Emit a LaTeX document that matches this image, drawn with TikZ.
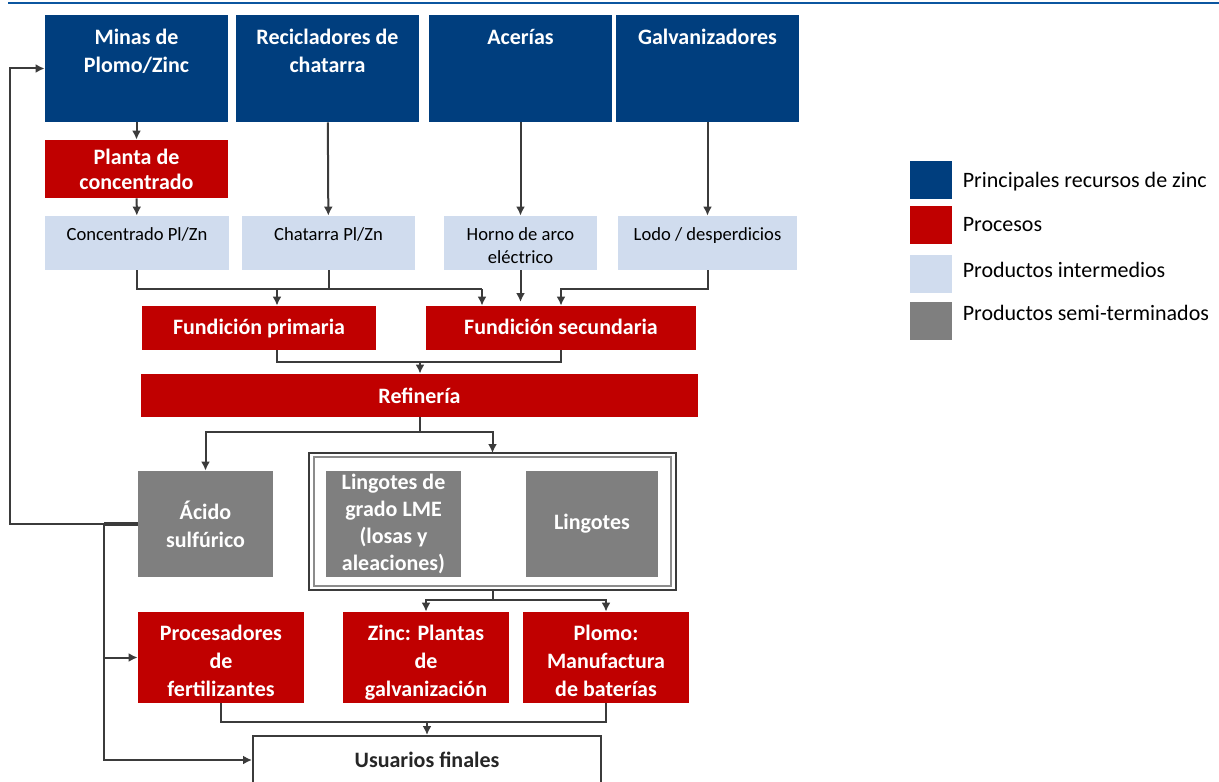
\documentclass[tikz,border=0pt]{standalone}
\usepackage{fontspec}
\setmainfont{Carlito}
\usepackage{tikz}
\usetikzlibrary{arrows.meta,positioning}
\definecolor{azulzinc}{HTML}{003E7E}
\definecolor{rojoproc}{HTML}{C00000}
\definecolor{celeste}{HTML}{D0DCEE}
\definecolor{grissemi}{HTML}{7F7F7F}
\definecolor{gristrazo}{HTML}{3B3B3B}
\definecolor{azulraya}{HTML}{0B56A0}
\tikzset{
caja/.style={rectangle, inner sep=0pt, align=center},
titulo/.style={text=white, font=\bfseries\fontsize{11}{14}\selectfont, align=center, inner sep=0pt},
chico/.style={text=black, font=\fontsize{9.3}{11.3}\selectfont, align=center, inner sep=0pt},
recurso/.style={caja, fill=azulzinc, minimum width=91.5pt, minimum height=53.5pt},
proceso/.style={caja, fill=rojoproc, titulo},
tres/.style={proceso, minimum width=83pt, minimum height=45.5pt, text height=39pt, text depth=0.5pt},
intermedio/.style={caja, fill=celeste, minimum height=27pt},
semiterm/.style={caja, fill=grissemi, titulo, minimum width=67.5pt, minimum height=53pt},
final/.style={caja, draw=gristrazo, line width=1pt, fill=white, font=\bfseries\fontsize{11}{14}\selectfont, text=black!85},
linea/.style={draw=gristrazo, line width=1pt},
flecha/.style={linea, -{Latex[length=4.5pt,width=4.5pt]}},
cuadro/.style={rectangle, minimum width=21pt, minimum height=19pt, inner sep=0pt},
leyenda/.style={font=\fontsize{11}{14}\selectfont, inner sep=0pt, anchor=west},
}
\begin{document}
\begin{tikzpicture}[x=0.5pt,y=-0.5pt]
\useasboundingbox (0,0) rectangle (1219,781);
\draw[azulraya, line width=1.3pt] (8,3) -- (1219,3);

% recursos
\node[recurso, label={[titulo,anchor=north,yshift=-7pt]north:{Minas de\\Plomo/Zinc}}] (minas) at (136.5,68.5) {};
\node[recurso, label={[titulo,anchor=north,yshift=-7pt]north:{Recicladores de\\chatarra}}] (recic) at (327.5,68.5) {};
\node[recurso, label={[titulo,anchor=north,yshift=-7pt]north:{Acerías}}] (acerias) at (520.5,68.5) {};
\node[recurso, label={[titulo,anchor=north,yshift=-7pt]north:{Galvanizadores}}] (galva) at (707.5,68.5) {};

\node[proceso, minimum width=91.5pt, minimum height=29pt, font=\bfseries\fontsize{11}{12.5}\selectfont] (planta) at (136.5,169) {Planta de\\concentrado};

% productos intermedios
\node[intermedio, minimum width=92pt, label={[chico,anchor=north,yshift=-6pt]north:{Concentrado Pl/Zn}}] (concen) at (137,243) {};
\node[intermedio, minimum width=86.5pt, label={[chico,anchor=north,yshift=-6pt]north:{Chatarra Pl/Zn}}] (chatarra) at (328.5,243) {};
\node[intermedio, minimum width=76.5pt, label={[chico,anchor=north,yshift=-6pt]north:{Horno de arco\\eléctrico}}] (horno) at (520.5,243) {};
\node[intermedio, minimum width=89.5pt, label={[chico,anchor=north,yshift=-6pt]north:{Lodo / desperdicios}}] (lodo) at (707.5,243) {};

\node[proceso, minimum width=117pt, minimum height=22pt, text depth=0.25ex] (fprim) at (259,328) {Fundición primaria};
\node[proceso, minimum width=135pt, minimum height=22pt, text depth=0.25ex] (fsec) at (561,328) {Fundición secundaria};
\node[proceso, minimum width=278.5pt, minimum height=21.5pt] (refin) at (419.5,395.5) {Refinería};

% semi-terminados
\draw[draw=gristrazo, line width=1.3pt] (309,453) rectangle (676,590);
\node[rectangle, draw=grissemi!90, line width=0.7pt, minimum width=178.5pt, minimum height=64.5pt] (marco) at (492.5,521.5) {};
\node[semiterm] (acido) at (205.5,524) {Ácido\\sulfúrico};
\node[semiterm, font=\bfseries\fontsize{11}{13.5}\selectfont] (lme) at (393.5,524) {Lingotes de\\grado LME\\(losas y\\aleaciones)};
\node[semiterm, minimum width=66pt] (lingotes) at (592,524) {Lingotes};

\node[tres] (fertil) at (221,657.5) {Procesadores\\de\\fertilizantes};
\node[tres] (zincg) at (426,657.5) {Zinc: Plantas\\de\\galvanización};
\node[tres] (plomo) at (606,657.5) {Plomo:\\Manufactura\\de baterías};
\node[final, minimum width=174pt, minimum height=24pt] (usuarios) at (427,760) {Usuarios finales};

% conectores
\coordinate (j1) at (277,289);
\coordinate (j2) at (482,289);
\coordinate (j3) at (520.5,302);
\coordinate (j4) at (561,289);
\coordinate (j5) at (420,362);
\coordinate (j6) at (419.5,432);
\coordinate (j7) at (492.5,600);
\coordinate (j8) at (427,722);
\coordinate (k1) at (10,524);
\coordinate (k2) at (104,524);

\draw[flecha] (minas) -- (planta);
\draw[flecha] (planta) -- (concen);
\draw[flecha] (recic) -- (chatarra);
\draw[flecha] (acerias) -- (horno);
\draw[flecha] (galva) -- (lodo);

\draw[linea] (concen.south) |- (j2);
\draw[linea] (chatarra.south) -- (chatarra.south |- j1);
\draw[flecha] (j1) -- (j1 |- fprim.north);
\draw[flecha] (j2) -- (j2 |- fsec.north);
\draw[flecha] (horno.south) -- (j3);
\draw[flecha] (lodo.south) |- (j4) -- (j4 |- fsec.north);

\draw[linea] (fprim.south -| j1) -- (j1 |- j5) -- (j4 |- j5) -- (fsec.south -| j4);
\draw[flecha] (j5) -- (j5 |- refin.north);

\draw[flecha] (refin.south) -- (j6) -| (acido.north);
\draw[flecha] (j6) -| (j6 -| marco.north) -- ++(0,21);

\draw[flecha] (acido.west) -- (k1) |- (minas.west);
\draw[linea, line width=1.6pt] (k2) -- (acido.west);
\draw[flecha] (k2) |- (usuarios.west);
\draw[flecha] (k2 |- fertil.west) -- (fertil.west);

\draw[linea] (marco.south) ++(0,4) -- (j7);
\draw[flecha] (j7) -| (zincg.north);
\draw[flecha] (j7) -| (plomo.north);

\draw[linea] (fertil.south) |- (j8) -| (plomo.south);
\draw[flecha] (j8) -- (usuarios.north);

% leyenda
\node[cuadro, fill=azulzinc] (ley1) at (931,180) {};
\node[cuadro, fill=rojoproc] (ley2) at (931,225) {};
\node[cuadro, fill=celeste] (ley3) at (931,274) {};
\node[cuadro, fill=grissemi] (ley4) at (931,321) {};
\node[leyenda, right=5pt of ley1, yshift=-1pt] {Principales recursos de zinc};
\node[leyenda, right=5pt of ley2] {Procesos};
\node[leyenda, right=5pt of ley3, yshift=2pt] {Productos intermedios};
\node[leyenda, right=5pt of ley4, yshift=4pt] {Productos semi-terminados};
\end{tikzpicture}
\end{document}
